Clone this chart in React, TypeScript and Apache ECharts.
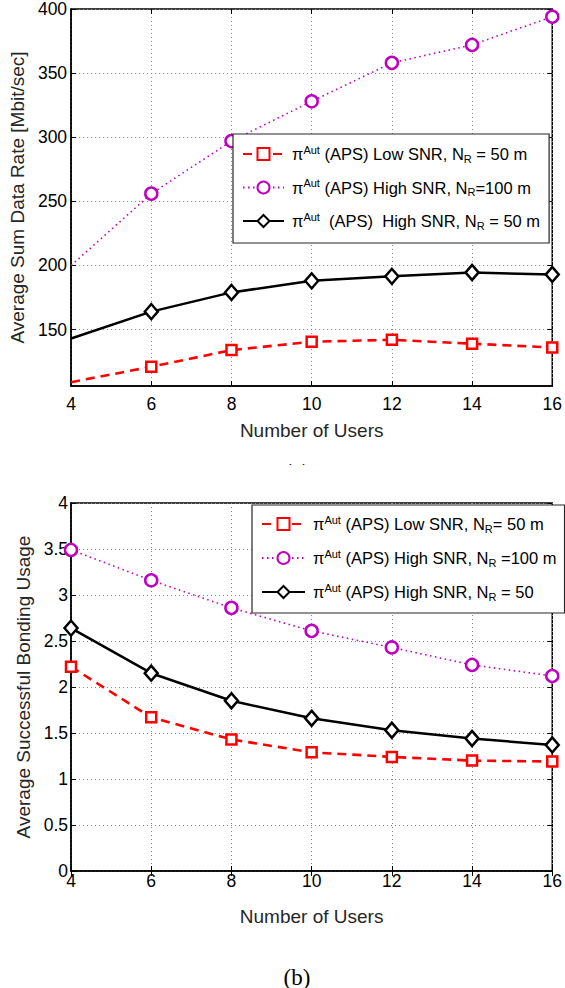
import React, { useEffect, useRef } from 'react';
import * as echarts from 'echarts';

// ---------- data ----------
const usersX = [4, 6, 8, 10, 12, 14, 16];

// (a) Average Sum Data Rate [Mbit/sec]
const rateLowSNR50 = [109, 121, 134, 140.5, 142, 139, 136];
const rateHighSNR100 = [200, 256, 297, 328, 358, 372, 394];
const rateHighSNR50 = [143, 164, 179, 188, 191.5, 194.5, 193];
const rateTicks = [150, 200, 250, 300, 350, 400];

// (b) Average Successful Bonding Usage
const bondLowSNR50 = [2.22, 1.67, 1.43, 1.29, 1.24, 1.2, 1.19];
const bondHighSNR100 = [3.49, 3.16, 2.86, 2.61, 2.43, 2.24, 2.12];
const bondHighSNR50 = [2.64, 2.15, 1.85, 1.66, 1.53, 1.44, 1.37];

const legendA = [
  '{n|π}{sup|Aut}{n| (APS) Low SNR, N}{sub|R}{n| = 50 m}',
  '{n|π}{sup|Aut}{n| (APS) High SNR, N}{sub|R}{n|=100 m}',
  '{n|π}{sup|Aut}{n|  (APS)  High SNR, N}{sub|R}{n| = 50 m}',
];
const legendB = [
  '{n|π}{sup|Aut}{n| (APS) Low SNR, N}{sub|R}{n|= 50 m}',
  '{n|π}{sup|Aut}{n| (APS) High SNR, N}{sub|R}{n| =100 m}',
  '{n|π}{sup|Aut}{n| (APS) High SNR, N}{sub|R}{n| = 50}',
];

const FONT = 'Liberation Sans, Arial, Helvetica, sans-serif';
const RED = '#ff0000';
const MAG = '#bf00bf';
const BLK = '#000000';

function pts(vals: number[], hideFirst: boolean) {
  return usersX.map((x, i) =>
    hideFirst && i === 0 ? { value: [x, vals[i]], symbol: 'none' } : [x, vals[i]]
  );
}

const richStyles = {
  n: { fontSize: 16.5, fontFamily: FONT, color: '#000', lineHeight: 20 },
  sup: { fontSize: 11, fontFamily: FONT, color: '#000', verticalAlign: 'top', lineHeight: 11 },
  sub: { fontSize: 11, fontFamily: FONT, color: '#000', verticalAlign: 'bottom', lineHeight: 11 },
};

function seriesSet(prefix: string, low: number[], h100: number[], h50: number[], xi: number, yi: number, hideFirst: boolean) {
  return [
    {
      name: prefix + '0',
      type: 'line',
      xAxisIndex: xi,
      yAxisIndex: yi,
      data: pts(low, hideFirst),
      symbol: 'rect',
      symbolSize: 10,
      lineStyle: { color: RED, width: 2.6, type: [9, 6] },
      itemStyle: { color: '#fff', borderColor: RED, borderWidth: 2.5 },
      z: 3,
    },
    {
      name: prefix + '1',
      type: 'line',
      xAxisIndex: xi,
      yAxisIndex: yi,
      data: pts(h100, hideFirst),
      symbol: 'circle',
      symbolSize: 12,
      lineStyle: { color: MAG, width: 1.6, type: [1.5, 3.5] },
      itemStyle: { color: '#fff', borderColor: MAG, borderWidth: 2.5 },
      z: 3,
    },
    {
      name: prefix + '2',
      type: 'line',
      xAxisIndex: xi,
      yAxisIndex: yi,
      data: pts(h50, hideFirst),
      symbol: 'diamond',
      symbolSize: [13, 15],
      lineStyle: { color: BLK, width: 2.5, type: 'solid' },
      itemStyle: { color: '#fff', borderColor: BLK, borderWidth: 2.5 },
      z: 3,
    },
  ];
}

const gridLine = { show: true, lineStyle: { color: '#888', width: 1, type: [1, 3] } };
const tickStyle = { show: true, inside: true, length: 5, lineStyle: { color: '#000', width: 1 } };

export default function App() {
  const ref = useRef<HTMLDivElement>(null);
  useEffect(() => {
    document.body.style.margin = '0';
    const chart = echarts.init(ref.current!, null, { renderer: 'svg' });
    const option: any = {
      animation: false,
      backgroundColor: '#fff',
      grid: [
        { left: 71, right: 10, top: 7, height: 379, show: true, borderColor: '#000', borderWidth: 1.5, backgroundColor: 'transparent' },
        { left: 71, right: 10, top: 503, height: 368, show: true, borderColor: '#000', borderWidth: 1.5, backgroundColor: 'transparent' },
      ],
      xAxis: [
        {
          type: 'value', gridIndex: 0, min: 4, max: 16, interval: 2, position: 'bottom',
          name: 'Number of Users', nameLocation: 'middle', nameGap: 35,
          nameTextStyle: { fontFamily: FONT, fontSize: 19, color: '#262626' },
          axisLine: { show: true, lineStyle: { color: '#000', width: 1.5 } },
          axisTick: tickStyle,
          axisLabel: { fontFamily: FONT, fontSize: 17.5, color: '#000', margin: 9 },
          splitLine: gridLine,
        },
        {
          type: 'value', gridIndex: 1, min: 4, max: 16, interval: 2, position: 'bottom',
          name: 'Number of Users', nameLocation: 'middle', nameGap: 36,
          nameTextStyle: { fontFamily: FONT, fontSize: 19, color: '#262626' },
          axisLine: { show: true, lineStyle: { color: '#000', width: 1.5 } },
          axisTick: tickStyle,
          axisLabel: { fontFamily: FONT, fontSize: 17.5, color: '#000', margin: 1 },
          splitLine: gridLine,
        },
        {
          type: 'value', gridIndex: 0, min: 4, max: 16, interval: 2, position: 'top',
          axisLine: { show: false }, axisTick: tickStyle, axisLabel: { show: false }, splitLine: { show: false },
        },
        {
          type: 'value', gridIndex: 1, min: 4, max: 16, interval: 2, position: 'top',
          axisLine: { show: false }, axisTick: tickStyle, axisLabel: { show: false }, splitLine: { show: false },
        },
      ],
      yAxis: [
        {
          type: 'value', gridIndex: 0, min: 106, max: 400,
          name: 'Average Sum Data Rate [Mbit/sec]', nameLocation: 'middle', nameGap: 41, nameRotate: 90,
          nameTextStyle: { fontFamily: FONT, fontSize: 19, color: '#262626' },
          axisLine: { show: true, lineStyle: { color: '#000', width: 1.5 } },
          axisTick: { ...tickStyle, customValues: rateTicks },
          axisLabel: { fontFamily: FONT, fontSize: 17.5, color: '#000', margin: 4, customValues: rateTicks },
          splitLine: gridLine,
        },
        {
          type: 'value', gridIndex: 1, min: 0, max: 4, interval: 0.5,
          name: 'Average Successful Bonding Usage', nameLocation: 'middle', nameGap: 34, nameRotate: 90,
          nameTextStyle: { fontFamily: FONT, fontSize: 19, color: '#262626' },
          axisLine: { show: true, lineStyle: { color: '#000', width: 1.5 } },
          axisTick: tickStyle,
          axisLabel: { fontFamily: FONT, fontSize: 17.5, color: '#000', margin: 3 },
          splitLine: gridLine,
        },
        {
          type: 'value', gridIndex: 0, min: 106, max: 400, position: 'right',
          axisLine: { show: false }, axisTick: { ...tickStyle, customValues: rateTicks },
          axisLabel: { show: false, customValues: rateTicks }, splitLine: { show: false },
        },
        {
          type: 'value', gridIndex: 1, min: 0, max: 4, interval: 0.5, position: 'right',
          axisLine: { show: false }, axisTick: tickStyle, axisLabel: { show: false }, splitLine: { show: false },
        },
      ],
      legend: [
        {
          data: ['a0', 'a1', 'a2'],
          orient: 'vertical',
          left: 233, top: 134,
          padding: [10, 9, 12, 9],
          itemGap: 13.5,
          itemWidth: 41, itemHeight: 15,
          backgroundColor: '#fff',
          borderColor: '#262626', borderWidth: 1.2, borderRadius: 0,
          selectedMode: false,
          formatter: (name: string) => legendA[Number(name.slice(1))],
          textStyle: { rich: richStyles, padding: [0, 0, 0, 3] },
        },
        {
          data: ['b0', 'b1', 'b2'],
          orient: 'vertical',
          left: 252, top: 505,
          padding: [9, 8, 11, 9],
          itemGap: 14,
          itemWidth: 43, itemHeight: 15,
          backgroundColor: '#fff',
          borderColor: '#262626', borderWidth: 1.2, borderRadius: 0,
          selectedMode: false,
          formatter: (name: string) => legendB[Number(name.slice(1))],
          textStyle: { rich: richStyles, padding: [0, 0, 0, 3] },
        },
      ],
      graphic: [
        {
          type: 'text',
          style: { x: 297, y: 472, text: '(a)', font: '23px "Liberation Serif", "Times New Roman", serif', fill: '#000', textAlign: 'center', textVerticalAlign: 'middle' },
          z: 0,
        },
        {
          type: 'rect', shape: { x: 0, y: 465, width: 565, height: 30 }, style: { fill: '#fff' }, z: 1,
        },
        {
          type: 'text',
          style: { x: 297, y: 977, text: '(b)', font: '23px "Liberation Serif", "Times New Roman", serif', fill: '#000', textAlign: 'center', textVerticalAlign: 'middle' },
          z: 1,
        },
      ],
      series: [
        ...seriesSet('a', rateLowSNR50, rateHighSNR100, rateHighSNR50, 0, 0, true),
        ...seriesSet('b', bondLowSNR50, bondHighSNR100, bondHighSNR50, 1, 1, false),
      ],
    };
    chart.setOption(option);
    return () => chart.dispose();
  }, []);
  return <div ref={ref} style={{ width: 565, height: 988 }} />;
}
